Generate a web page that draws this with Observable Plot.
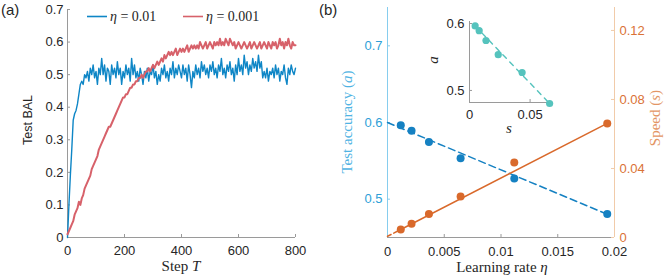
<!DOCTYPE html>
<html><head><meta charset="utf-8">
<script src="https://cdn.jsdelivr.net/npm/d3@7"></script>
<script src="https://cdn.jsdelivr.net/npm/@observablehq/plot@0.6"></script>
<style>
body{margin:0;background:#fff}
#c{position:relative;width:665px;height:275px;overflow:hidden;background:#fff}
#c svg{position:absolute;overflow:visible}
</style></head><body><div id="c"></div>
<script>
// ---------- Panel (a) data ----------
const stepT = 5; // sampling interval of the series below (steps)
const stepTicks = [0, 200, 400, 600, 800];
const balTicks = [0, 0.1, 0.2, 0.3, 0.4, 0.5, 0.6, 0.7];
const seriesEta = ["0.01", "0.001"];
const seriesColors = ["#0e86c6", "#d7616a"];
const bal_eta001 = [
0.00,0.10,0.19,0.27,0.36,0.38,0.39,0.41,0.44,0.47,0.48,0.47,0.50,0.49,0.51,0.48,0.52,0.50,0.53,0.49,
0.51,0.47,0.52,0.50,0.55,0.50,0.53,0.48,0.52,0.51,0.47,0.53,0.50,0.52,0.49,0.54,0.50,0.52,0.47,0.51,
0.49,0.53,0.50,0.52,0.48,0.55,0.50,0.53,0.49,0.51,0.48,0.52,0.50,0.47,0.51,0.49,0.52,0.48,0.51,0.50,
0.53,0.49,0.51,0.47,0.50,0.48,0.52,0.50,0.53,0.49,0.51,0.48,0.52,0.50,0.54,0.49,0.52,0.50,0.53,0.51,
0.49,0.53,0.50,0.52,0.48,0.53,0.50,0.46,0.51,0.49,0.53,0.50,0.52,0.49,0.54,0.51,0.53,0.50,0.52,0.49,
0.53,0.51,0.54,0.50,0.52,0.49,0.53,0.51,0.55,0.50,0.52,0.49,0.53,0.51,0.54,0.50,0.52,0.48,0.53,0.50,
0.55,0.51,0.53,0.50,0.56,0.52,0.54,0.50,0.53,0.51,0.55,0.52,0.54,0.51,0.56,0.52,0.54,0.49,0.51,0.49,
0.52,0.48,0.51,0.50,0.52,0.49,0.53,0.50,0.52,0.48,0.51,0.50,0.53,0.49,0.47,0.52,0.50,0.53,0.51,0.50,
0.52];
const bal_eta0001 = [
0.01,0.02,0.03,0.04,0.05,0.07,0.08,0.09,0.11,0.10,0.12,0.13,0.15,0.16,0.17,0.18,0.19,0.21,0.22,0.23,
0.24,0.25,0.27,0.28,0.29,0.30,0.31,0.32,0.33,0.34,0.34,0.35,0.36,0.37,0.38,0.39,0.40,0.41,0.42,0.43,
0.43,0.44,0.44,0.45,0.46,0.46,0.47,0.47,0.48,0.48,0.49,0.49,0.50,0.49,0.50,0.51,0.51,0.52,0.51,0.52,
0.53,0.52,0.53,0.54,0.53,0.54,0.55,0.54,0.56,0.55,0.56,0.57,0.56,0.57,0.56,0.57,0.58,0.56,0.57,0.58,
0.57,0.58,0.57,0.58,0.59,0.57,0.58,0.59,0.58,0.59,0.58,0.59,0.58,0.60,0.59,0.58,0.59,0.60,0.58,0.59,
0.60,0.59,0.58,0.60,0.59,0.60,0.59,0.61,0.59,0.60,0.59,0.61,0.60,0.59,0.61,0.60,0.59,0.60,0.58,0.59,
0.60,0.59,0.58,0.59,0.60,0.59,0.58,0.59,0.60,0.58,0.59,0.60,0.59,0.58,0.59,0.60,0.58,0.59,0.60,0.59,
0.58,0.60,0.59,0.58,0.60,0.59,0.60,0.58,0.59,0.61,0.59,0.60,0.58,0.60,0.59,0.61,0.59,0.58,0.60,0.59,
0.59];

// ---------- Panel (b) data ----------
const etaValues = [0.00117, 0.00212, 0.00365, 0.00644, 0.01117, 0.01936];
const accuracy  = [0.5964, 0.5893, 0.5746, 0.5534, 0.5268, 0.4805];
const speed     = [0.00465, 0.00797, 0.0136, 0.0237, 0.0434, 0.0661];
const accFit   = [0.600, -6.18];   // intercept, slope (a vs eta)
const speedFit = [0.0007, 3.378];  // intercept, slope (s vs eta)
const insetFit = [0.6052, -1.886]; // intercept, slope (a vs s)
const etaTicks = [0, 0.005, 0.01, 0.015, 0.02];
const accTicks = [0.5, 0.6, 0.7];
const speedTicks = [0, 0.04, 0.08, 0.12];
const insetSTicks = [0, 0.05];
const insetATicks = [0.5, 0.6];

const C = {blue:"#1581c2", accAxis:"#2e9fd8", accLine:"#86cdee", accLabel:"#4fb3e3",
           orange:"#d9692b", spAxis:"#da7236", spLine:"#f1cba9", spLabel:"#e39564",
           teal:"#55c3bd", gray:"#9a9a9a", text:"#262626"};
const sans = "'Liberation Sans', Arial, Helvetica, sans-serif";
const serif = "'Liberation Serif', 'DejaVu Serif', serif";
const baseStyle = {fontFamily: sans, fontSize: "13px", color: C.text, background: "transparent", overflow: "visible"};
const fmt = d => String(d);
const container = document.getElementById("c");
function place(svg, left, top){ svg.style.left = left+"px"; svg.style.top = top+"px"; container.appendChild(svg); }

// ---------- Plot (a) ----------
{
  const W=330,H=275,mL=67,mR=35,mT=9,mB=38, pw=W-mL-mR, ph=H-mT-mB;
  const d1 = bal_eta001.map((v,i)=>({T:i*stepT, v}));
  const d2 = bal_eta0001.map((v,i)=>({T:i*stepT, v}));
  const p = Plot.plot({
    width:W, height:H, marginLeft:mL, marginRight:mR, marginTop:mT, marginBottom:mB,
    style: baseStyle,
    x:{domain:[0,800]}, y:{domain:[0,0.7]},
    marks:[
      Plot.axisX({ticks:stepTicks, tickSize:0, tickPadding:8, label:null, fill:C.text, tickFormat:fmt}),
      Plot.axisY({ticks:balTicks, tickSize:0, tickPadding:4, label:null, fill:C.text, tickFormat:fmt}),
      Plot.tickX(stepTicks, {x:d=>d, insetTop:ph-3, stroke:C.gray}),
      Plot.tickY(balTicks, {y:d=>d, insetRight:pw-3, stroke:C.gray}),
      Plot.ruleX([0], {stroke:C.gray}),
      Plot.ruleY([0], {stroke:C.gray}),
      Plot.line(d1, {x:"T", y:"v", stroke:seriesColors[0], strokeWidth:1.4}),
      Plot.line(d2, {x:"T", y:"v", stroke:seriesColors[1], strokeWidth:2})
    ]
  });
  place(p, 0, 0);
}

// ---------- Plot (b) left axis ----------
const bW=335,bH=275,bL=57,bR=51,bT=7,bB=38, bpw=bW-bL-bR, bph=bH-bT-bB;
{
  const etaMax = etaValues[etaValues.length-1];
  const fitA = [0, etaMax].map(x=>({x, y: accFit[0]+accFit[1]*x}));
  const p = Plot.plot({
    width:bW, height:bH, marginLeft:bL, marginRight:bR, marginTop:bT, marginBottom:bB,
    style: baseStyle,
    x:{domain:[0,0.02]}, y:{domain:[0.45,0.75]},
    marks:[
      Plot.axisX({ticks:etaTicks, tickSize:0, tickPadding:9, label:null, fill:C.text, tickFormat:fmt}),
      Plot.axisY({ticks:accTicks, tickSize:0, tickPadding:5, label:null, fill:C.accAxis, tickFormat:fmt}),
      Plot.tickX(etaTicks, {x:d=>d, insetTop:bph-3, stroke:C.gray}),
      Plot.tickY(accTicks, {y:d=>d, insetRight:bpw-3, stroke:C.accLine}),
      Plot.ruleY([0.45], {stroke:C.gray}),
      Plot.ruleX([0], {stroke:C.accLine}),
      Plot.line(fitA, {x:"x", y:"y", stroke:C.blue, strokeWidth:1.5, strokeDasharray:"7,4"}),
      Plot.dot(etaValues, {x:d=>d, y:(d,i)=>accuracy[i], r:4, fill:C.blue, stroke:null})
    ]
  });
  place(p, 330, 0);
}
// ---------- Plot (b) right axis ----------
{
  const etaMax = etaValues[etaValues.length-1];
  const fitDash = [0, etaValues[0]].map(x=>({x, y: speedFit[0]+speedFit[1]*x}));
  const fitSolid = [etaValues[0], etaMax].map(x=>({x, y: speedFit[0]+speedFit[1]*x}));
  const p = Plot.plot({
    width:bW, height:bH, marginLeft:bL, marginRight:bR, marginTop:bT, marginBottom:bB,
    style: baseStyle,
    x:{domain:[0,0.02], axis:null}, y:{domain:[0,0.1333]},
    marks:[
      Plot.axisY({anchor:"right", ticks:speedTicks, tickSize:0, tickPadding:5, label:null, fill:C.spAxis, tickFormat:fmt}),
      Plot.tickY(speedTicks, {y:d=>d, insetLeft:bpw-3, stroke:C.spLine}),
      Plot.ruleX([0.02], {stroke:C.spLine}),
      Plot.line(fitDash, {x:"x", y:"y", stroke:C.orange, strokeWidth:1.5, strokeDasharray:"4,3"}),
      Plot.line(fitSolid, {x:"x", y:"y", stroke:C.orange, strokeWidth:1.5}),
      Plot.dot(etaValues, {x:d=>d, y:(d,i)=>speed[i], r:4, fill:C.orange, stroke:null})
    ]
  });
  place(p, 330, 0);
}
// ---------- Inset ----------
{
  const W=130,H=140,mL=39,mR=11,mT=21,mB=38, pw=W-mL-mR, ph=H-mT-mB;
  const fit = [speed[0], speed[speed.length-1]].map(s=>({s, a: insetFit[0]+insetFit[1]*s}));
  const p = Plot.plot({
    width:W, height:H, marginLeft:mL, marginRight:mR, marginTop:mT, marginBottom:mB,
    style: baseStyle,
    x:{domain:[0,0.066]}, y:{domain:[0.482,0.603]},
    marks:[
      Plot.axisX({ticks:insetSTicks, tickSize:0, tickPadding:7, label:null, fill:C.text, tickFormat:fmt}),
      Plot.axisY({ticks:insetATicks, tickSize:0, tickPadding:5, label:null, fill:C.text, tickFormat:fmt}),
      Plot.tickX(insetSTicks, {x:d=>d, insetTop:ph-3, stroke:C.gray}),
      Plot.tickY(insetATicks, {y:d=>d, insetRight:pw-3, stroke:C.gray}),
      Plot.ruleX([0], {stroke:C.gray}),
      Plot.ruleY([0.482], {stroke:C.gray}),
      Plot.line(fit, {x:"s", y:"a", stroke:C.teal, strokeWidth:1.4, strokeDasharray:"5,5"}),
      Plot.dot(speed, {x:d=>d, y:(d,i)=>accuracy[i], r:3.6, fill:C.teal, stroke:null})
    ]
  });
  place(p, 430, 0);
}

// ---------- Text overlay (labels, legend) ----------
{
  const svg = d3.create("svg").attr("width",665).attr("height",275).style("left","0px").style("top","0px")
    .style("pointer-events","none");
  const t = (x,y,str,opt={}) => {
    const el = svg.append("text").attr("x",x).attr("y",y).text(str)
      .attr("font-family", opt.family||sans).attr("font-size", opt.size||13)
      .attr("fill", opt.fill||C.text).attr("text-anchor", opt.anchor||"start");
    if (opt.italic) el.attr("font-style","italic");
    if (opt.rotate) el.attr("transform", `rotate(-90 ${x} ${y})`);
    return el;
  };
  t(1,15,"(a)",{size:15});
  t(319,15,"(b)",{size:15});
  t(32,120,"Test BAL",{size:12.5,anchor:"middle",rotate:true});
  const st = t(181,271,"Step ",{family:serif,size:15,anchor:"middle"});
  st.append("tspan").attr("font-style","italic").text("T");
  const legX = [87, 183];
  seriesEta.forEach((eta,i)=>{
    svg.append("line").attr("x1",legX[i]).attr("x2",legX[i]+20).attr("y1",16.5).attr("y2",16.5)
      .attr("stroke",seriesColors[i]).attr("stroke-width",1.6);
    const tx = t(legX[i]+23,21,"",{family:serif,size:14});
    tx.append("tspan").attr("font-style","italic").text("η");
    tx.append("tspan").text(" = " + eta);
  });
  const ya = t(352,122,"Test accuracy (",{family:serif,size:15,anchor:"middle",fill:C.accLabel,rotate:true});
  ya.append("tspan").attr("font-style","italic").text("a");
  ya.append("tspan").text(")");
  const xl = t(502,272,"Learning rate ",{family:serif,size:15,anchor:"middle"});
  xl.append("tspan").attr("font-style","italic").text("η");
  const yr = t(660,118,"Speed (",{family:serif,size:15,anchor:"middle",fill:C.spLabel,rotate:true});
  yr.append("tspan").attr("font-style","italic").text("s");
  yr.append("tspan").text(")");
  t(438,60,"a",{family:serif,size:15,anchor:"middle",italic:true,rotate:true});
  t(509,133,"s",{family:serif,size:15,anchor:"middle",italic:true});
  container.appendChild(svg.node());
}
</script></body></html>
